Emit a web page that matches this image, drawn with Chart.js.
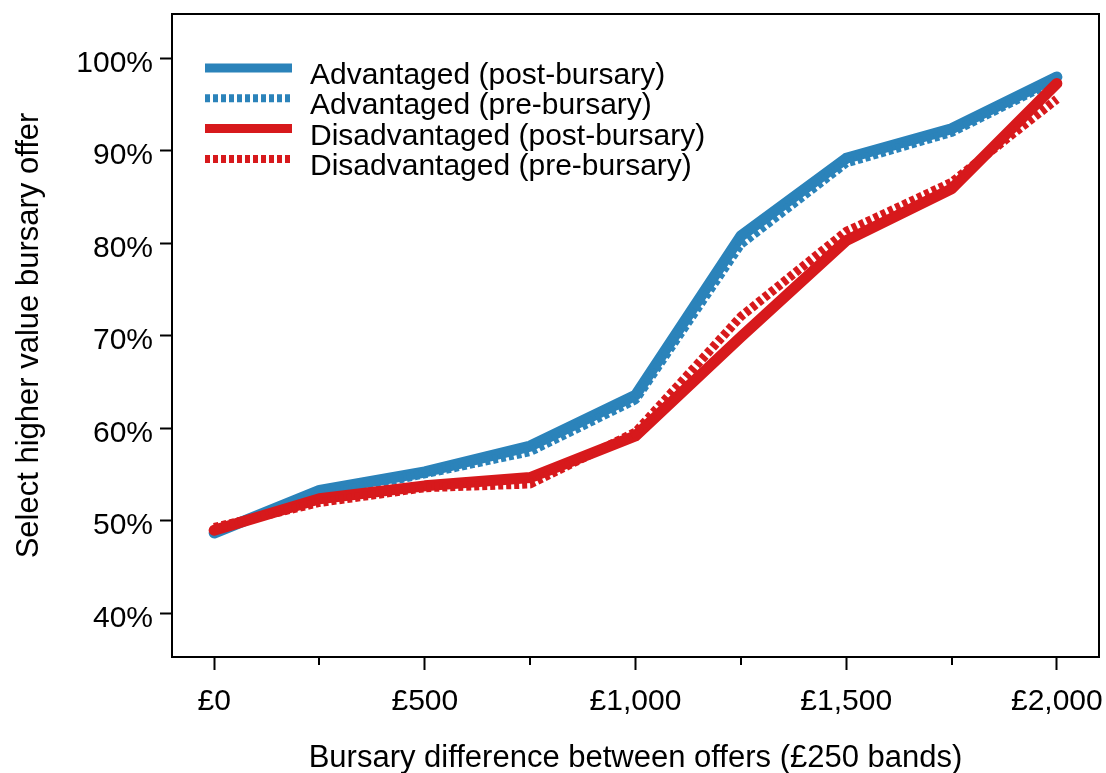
<!DOCTYPE html>
<html>
<head>
<meta charset="utf-8">
<script src="https://cdn.jsdelivr.net/npm/chart.js@4"></script>
<style>
  html, body { margin: 0; padding: 0; background: #fff; }
  #chart { display: block; }
</style>
</head>
<body>
<canvas id="chart" width="1106" height="773"></canvas>
<script>
// bursary bands (x) and the share choosing the higher offer (%)
var bands = [0, 250, 500, 750, 1000, 1250, 1500, 1750, 2000];
var adv_post = [48.7, 53.3, 55.3, 58.1, 63.6, 80.8, 89.2, 92.4, 98.0];
var adv_pre = [49.0, 52.8, 55.1, 57.5, 63.1, 79.9, 88.7, 92.0, 97.7];
var dis_post = [49.0, 52.4, 53.8, 54.7, 59.2, 69.9, 80.3, 85.9, 97.3];
var dis_pre = [49.3, 52.0, 53.6, 54.0, 59.6, 72.1, 81.3, 86.6, 95.6];

var series_names = ["Advantaged (post-bursary)", "Advantaged (pre-bursary)", "Disadvantaged (post-bursary)", "Disadvantaged (pre-bursary)"];

var x_major_ticks = [0, 500, 1000, 1500, 2000];
var x_tick_labels = ["£0", "£500", "£1,000", "£1,500", "£2,000"];
var x_minor_ticks = [250, 750, 1250, 1750];
var y_ticks = [40, 50, 60, 70, 80, 90, 100];
var y_tick_labels = ["40%", "50%", "60%", "70%", "80%", "90%", "100%"];

var BLUE = "#2B83BA";
var RED = "#D7191C";
var FONT = "'Liberation Sans', Arial, Helvetica, sans-serif";

function points(values) {
  var out = [];
  for (i = 0; i < bands.length; i++) {
    out.push({x: bands[i], y: values[i]});
  }
  return out;
}

// box round the plot + minor x ticks
var box_plugin = {
  id: 'box',
  afterDraw: function(chart) {
    var ctx = chart.ctx;
    var a = chart.chartArea;
    ctx.save();
    ctx.strokeStyle = "#000";
    ctx.lineWidth = 2;
    ctx.strokeRect(a.left, a.top, a.right - a.left, a.bottom - a.top);
    var xs = chart.scales.x;
    ctx.beginPath();
    for (i = 0; i < x_minor_ticks.length; i++) {
      var px = Math.round(xs.getPixelForValue(x_minor_ticks[i]));
      ctx.moveTo(px, a.bottom);
      ctx.lineTo(px, a.bottom + 8);
    }
    ctx.stroke();
    ctx.restore();
  }
};

// legend drawn inside the plot, top left
var inner_legend = {
  id: 'inner_legend',
  afterDatasetsDraw: function(chart) {
    var ctx = chart.ctx;
    ctx.save();
    var sets = chart.data.datasets;
    for (i = 0; i < sets.length; i++) {
      var ds = sets[i];
      var y = 68 + i * 30.3;
      ctx.beginPath();
      ctx.strokeStyle = ds.borderColor;
      ctx.lineWidth = ds.borderDash.length ? 8 : 9;
      ctx.lineCap = 'butt';
      ctx.setLineDash(ds.borderDash);
      ctx.moveTo(205, y);
      ctx.lineTo(292, y);
      ctx.stroke();
      ctx.setLineDash([]);
      ctx.fillStyle = "#000";
      ctx.font = "30px " + FONT;
      ctx.textBaseline = 'alphabetic';
      ctx.textAlign = 'left';
      ctx.fillText(ds.label, 310, y + 16);
    }
    ctx.restore();
  }
};

function make_set(name, values, colour, dashed, order) {
  return {
    label: name,
    data: points(values),
    borderColor: colour,
    backgroundColor: colour,
    borderWidth: dashed ? 9 : 11,
    borderDash: dashed ? [5, 3] : [],
    borderCapStyle: dashed ? 'butt' : 'round',
    borderJoinStyle: 'round',
    pointRadius: 0,
    fill: false,
    tension: 0,
    order: order
  };
}

new Chart(document.getElementById("chart"), {
  type: 'line',
  data: {
    datasets: [
      make_set(series_names[0], adv_post, BLUE, false, 4),
      make_set(series_names[1], adv_pre, BLUE, true, 3),
      make_set(series_names[2], dis_post, RED, false, 2),
      make_set(series_names[3], dis_pre, RED, true, 1)
    ]
  },
  options: {
    responsive: false,
    animation: false,
    layout: { padding: { top: 14, right: 7, left: 0, bottom: 0 } },
    plugins: {
      legend: { display: false },
      tooltip: { enabled: false }
    },
    scales: {
      x: {
        type: 'linear',
        min: -100,
        max: 2100,
        afterFit: function(s) {
          s.height = 116;
          s.paddingLeft = 0;
          s.paddingRight = 0;
        },
        afterBuildTicks: function(s) {
          s.ticks = x_major_ticks.map(function(v) { return {value: v}; });
        },
        grid: { drawOnChartArea: false, tickLength: 13, tickWidth: 2, tickColor: "#000" },
        border: { display: true, color: "#000", width: 2 },
        ticks: {
          color: "#000",
          padding: 14,
          maxRotation: 0,
          autoSkip: false,
          font: { family: FONT, size: 30 },
          callback: function(value) {
            var k = x_major_ticks.indexOf(value);
            return k >= 0 ? x_tick_labels[k] : '';
          }
        },
        title: {
          display: true,
          text: "Bursary difference between offers (£250 bands)",
          color: "#000",
          font: { family: FONT, size: 31 },
          padding: { top: 0, bottom: -4 }
        }
      },
      y: {
        min: 35.3,
        max: 104.8,
        afterFit: function(s) {
          s.width = 172;
          s.paddingTop = 0;
          s.paddingBottom = 0;
        },
        afterBuildTicks: function(s) {
          s.ticks = y_ticks.map(function(v) { return {value: v}; });
        },
        grid: { drawOnChartArea: false, tickLength: 12, tickWidth: 2, tickColor: "#000" },
        border: { display: true, color: "#000", width: 2 },
        ticks: {
          color: "#000",
          padding: 7,
          labelOffset: 5,
          font: { family: FONT, size: 30 },
          callback: function(value) {
            var k = y_ticks.indexOf(value);
            return k >= 0 ? y_tick_labels[k] : '';
          }
        },
        title: {
          display: true,
          text: "Select higher value bursary offer",
          color: "#000",
          font: { family: FONT, size: 31 },
          padding: { top: 11, bottom: 0 }
        }
      }
    }
  },
  plugins: [box_plugin, inner_legend]
});
</script>
</body>
</html>
